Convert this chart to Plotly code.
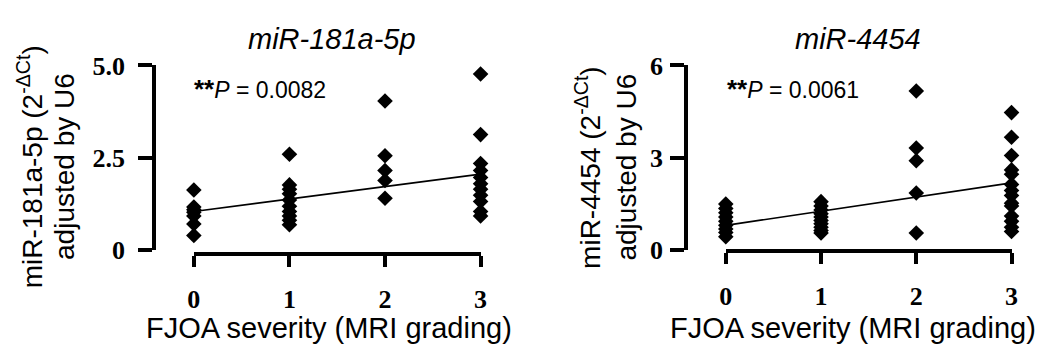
import plotly.graph_objects as go

# ---------------- data ----------------
grades = [0, 1, 2, 3]
tick_labels = ["0", "1", "2", "3"]

# miR-181a-5p (2^-dCt adjusted by U6) per MRI grade
mir181_g0 = [1.63, 1.17, 1.10, 1.03, 0.93, 0.71, 0.40]
mir181_g1 = [2.60, 1.77, 1.65, 1.53, 1.36, 1.19, 1.05, 0.93, 0.81, 0.69]
mir181_g2 = [4.04, 2.56, 2.16, 1.89, 1.41]
mir181_g3 = [4.77, 3.13, 2.35, 2.16, 1.97, 1.80, 1.65, 1.49, 1.32, 1.05, 0.93]
mir181_fit = [1.05, 2.06]   # regression line at grade 0 and grade 3
mir181_p = "0.0082"

# miR-4454
mir4454_g0 = [1.50, 1.36, 1.22, 1.08, 0.94, 0.81, 0.69, 0.58, 0.44]
mir4454_g1 = [1.58, 1.44, 1.31, 1.19, 1.08, 0.97, 0.86, 0.75, 0.64, 0.56]
mir4454_g2 = [5.17, 3.32, 2.91, 1.86, 0.56]
mir4454_g3 = [4.47, 3.67, 3.08, 2.61, 2.47, 2.14, 1.94, 1.78, 1.53, 1.44, 1.11, 0.94, 0.75, 0.61]
mir4454_fit = [0.81, 2.19]
mir4454_p = "0.0061"

y1_ticks = [0, 2.5, 5.0]
y1_labels = ["0", "2.5", "5.0"]
y2_ticks = [0, 3, 6]
y2_labels = ["0", "3", "6"]

# ---------------- figure ----------------
W, H = 1063, 360
def px(x):
    return x / W
def py(y):
    return (H - y) / H

fig = go.Figure()

def add_panel(groups, fit, xa, ya):
    xs, ys = [], []
    for g, vals in zip(grades, groups):
        xs += [g] * len(vals)
        ys += vals
    fig.add_trace(go.Scatter(x=[grades[0], grades[-1]], y=fit, mode="lines",
                             line=dict(color="black", width=1.6),
                             xaxis=xa, yaxis=ya, cliponaxis=False, showlegend=False))
    fig.add_trace(go.Scatter(x=xs, y=ys, mode="markers",
                             marker=dict(symbol="diamond", size=12, color="black"),
                             xaxis=xa, yaxis=ya, cliponaxis=False, showlegend=False))

add_panel([mir181_g0, mir181_g1, mir181_g2, mir181_g3], mir181_fit, "x", "y")
add_panel([mir4454_g0, mir4454_g1, mir4454_g2, mir4454_g3], mir4454_fit, "x2", "y2")

tickfont = dict(family="Liberation Serif", size=26, color="black", weight="bold")

def xaxis(domain, pos):
    return dict(domain=domain, range=[0, 3], anchor="free", position=pos,
                showline=True, linewidth=4, linecolor="black",
                tickmode="array", tickvals=grades, ticktext=tick_labels,
                ticks="outside", ticklen=11, tickwidth=4, tickcolor="black",
                tickfont=tickfont, ticklabelstandoff=10,
                showgrid=False, zeroline=False, fixedrange=True)

def yaxis(domain, rng, tv, tt, pos, standoff):
    return dict(domain=domain, range=rng, anchor="free", position=pos,
                showline=True, linewidth=4, linecolor="black",
                tickmode="array", tickvals=tv, ticktext=tt,
                ticks="outside", ticklen=14, tickwidth=4, tickcolor="black",
                tickfont=tickfont, ticklabelstandoff=standoff,
                showgrid=False, zeroline=False, fixedrange=True)

ydom = [py(257), py(56)]
fig.update_layout(
    width=W, height=H,
    margin=dict(l=0, r=0, t=0, b=0),
    paper_bgcolor="white", plot_bgcolor="white",
    xaxis=xaxis([px(190), px(480)], py(261)),
    yaxis=yaxis(ydom, [0, 5], y1_ticks, y1_labels, px(150), 8),
    xaxis2=xaxis([px(728), px(1017)], py(258)),
    yaxis2=yaxis(ydom, [0, 6], y2_ticks, y2_labels, px(688), 2),
)

sans = "Liberation Sans"
ann = []
# titles
ann.append(dict(text="<i>miR-181a-5p</i>", x=px(330), y=py(27), font=dict(family=sans, size=29)))
ann.append(dict(text="<i>miR-4454</i>", x=px(862), y=py(27), font=dict(family=sans, size=29)))
# p-values
ann.append(dict(text="<span style='font-size:26px'><b>**</b></span><i>P</i> = " + mir181_p,
                x=px(188), y=py(82), xanchor="left", font=dict(family=sans, size=23)))
ann.append(dict(text="<span style='font-size:26px'><b>**</b></span><i>P</i> = " + mir4454_p,
                x=px(727), y=py(82), xanchor="left", font=dict(family=sans, size=23)))
# x-axis titles
ann.append(dict(text="FJOA severity (MRI grading)", x=px(327), y=py(342), font=dict(family=sans, size=29)))
ann.append(dict(text="FJOA severity (MRI grading)", x=px(857), y=py(342), font=dict(family=sans, size=29)))
# y-axis titles (two lines each)
ann.append(dict(text="miR-181a-5p (2<sup>-ΔCt</sup>)", x=px(24), y=py(166), textangle=-90,
                font=dict(family=sans, size=28)))
ann.append(dict(text="adjusted by U6", x=px(59), y=py(166), textangle=-90,
                font=dict(family=sans, size=28)))
ann.append(dict(text="miR-4454 (2<sup>-ΔCt</sup>)", x=px(588), y=py(167), textangle=-90,
                font=dict(family=sans, size=28)))
ann.append(dict(text="adjusted by U6", x=px(628), y=py(166), textangle=-90,
                font=dict(family=sans, size=28)))

for a in ann:
    a.setdefault("xanchor", "center")
    a["yanchor"] = "middle"
    a["xref"] = "paper"
    a["yref"] = "paper"
    a["showarrow"] = False
    a["font"]["color"] = "black"
fig.update_layout(annotations=ann)

fig.write_html("out.html", config={"displayModeBar": False},
               post_script="document.body.style.margin='0';document.body.style.overflow='hidden';")
